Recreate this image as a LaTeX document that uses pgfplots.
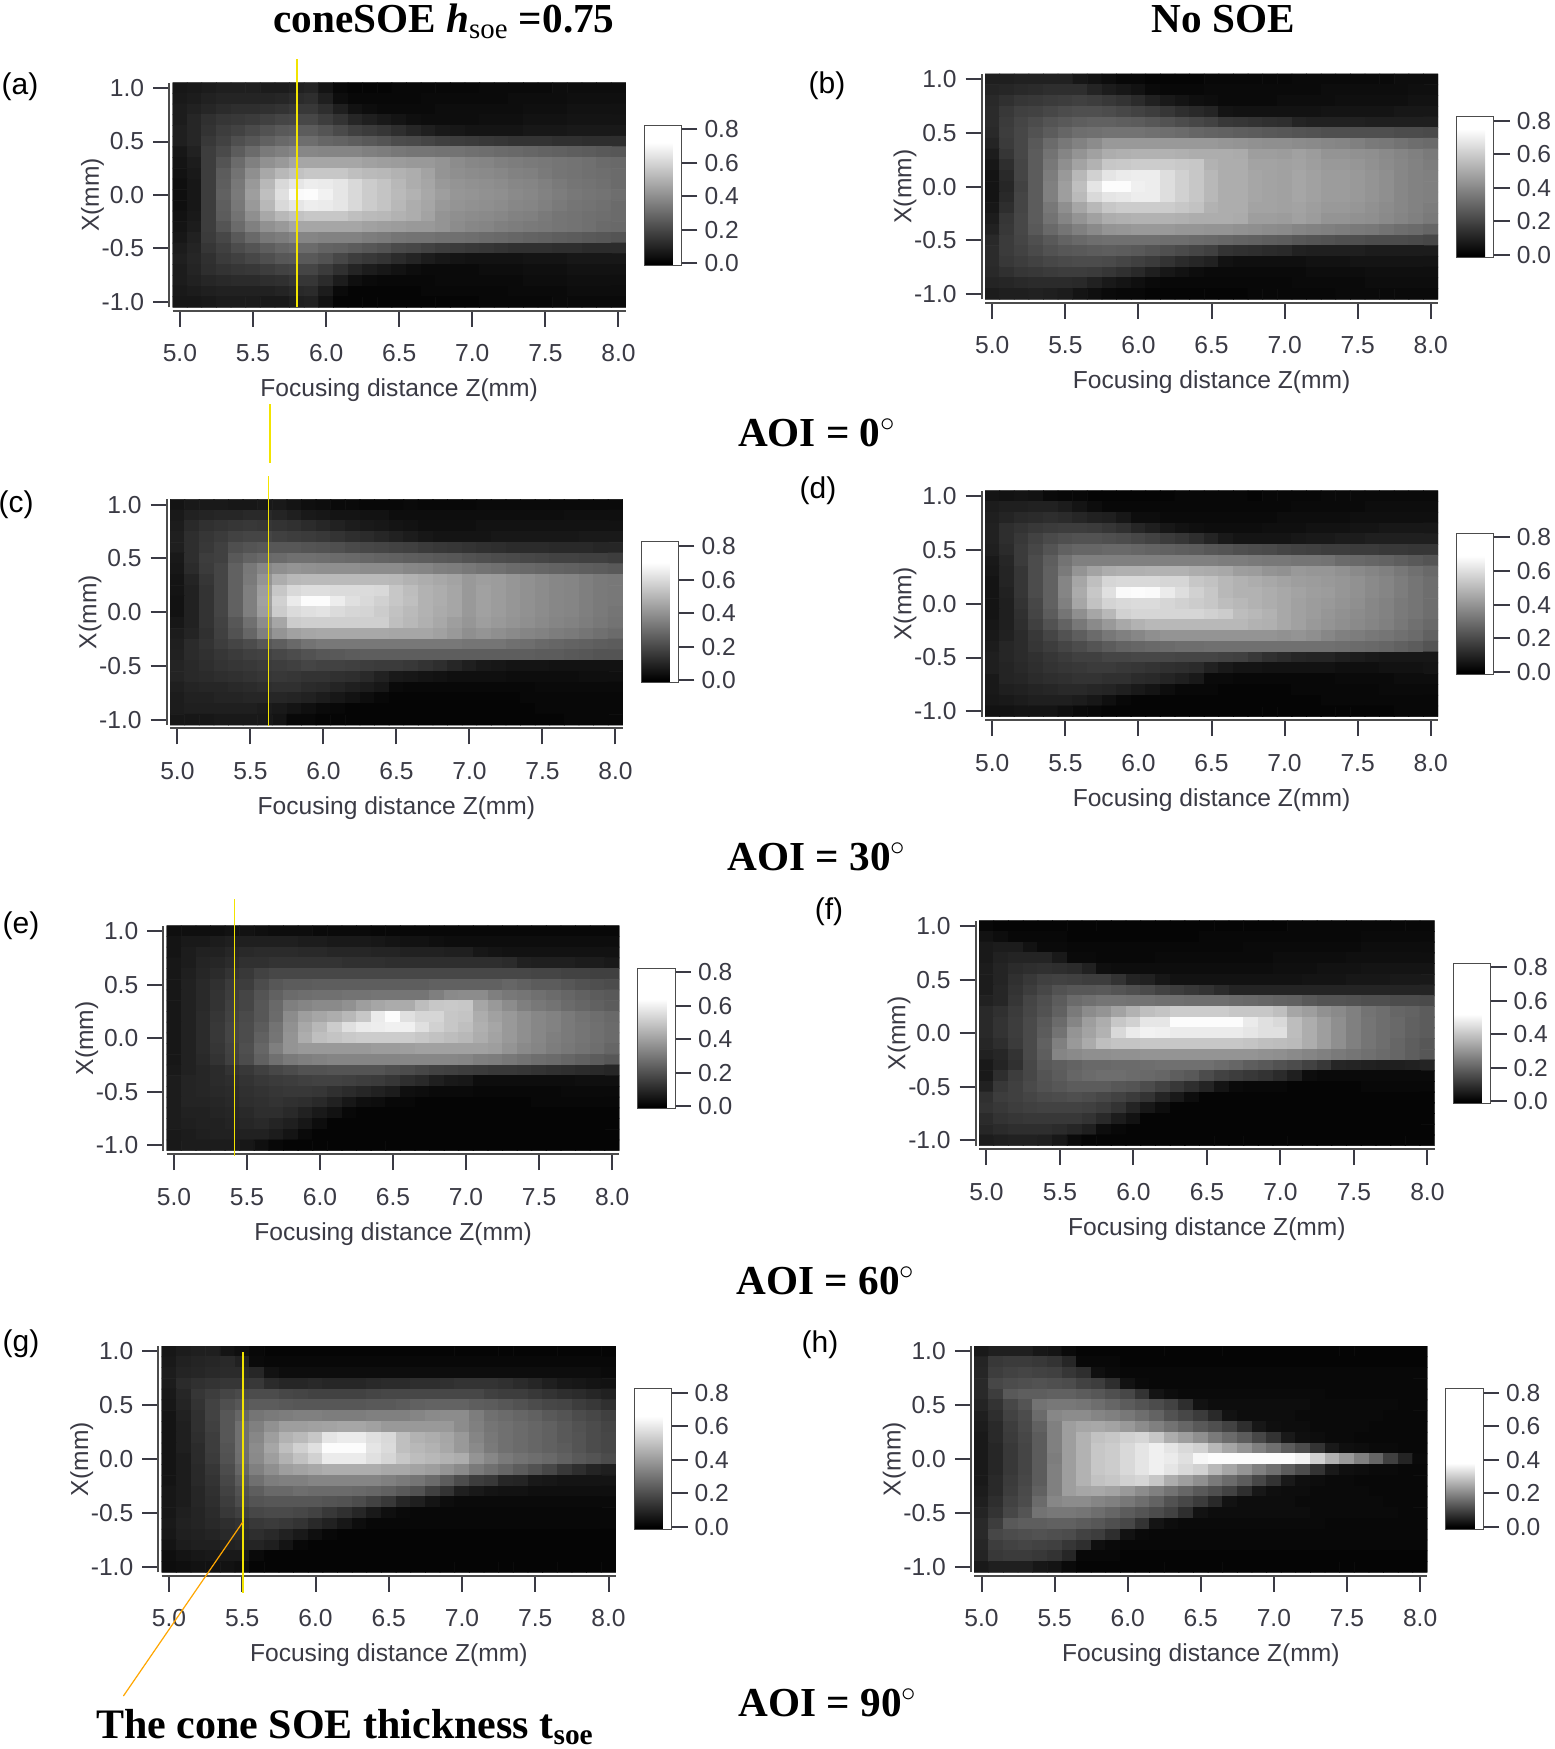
\documentclass[border=0pt]{standalone}
\usepackage{fontspec}
\usepackage{pgfplots}
\usepackage{pgfplotstable}
\pgfplotsset{compat=1.18}
\setmainfont{Liberation Serif}
\newfontfamily\sanslab{Liberation Sans}
\newcommand{\lab}{\sanslab\fontsize{12.3}{12.3}\selectfont}
\newcommand{\ttl}[1]{\fontsize{#1}{#1}\selectfont\bfseries}
\definecolor{inkc}{HTML}{3A3A44}
\definecolor{soe}{HTML}{F2E400}
\def\p{0.5pt}

% brightness in percent of the panel's white level; rows x=1.0 ... -1.0, columns z=5.0 ... 8.0
\pgfplotstableread[header=false]{
9 10 11 12 12 12 11 11 13 14 8 3 2 2 2 3 3 3 3 3 3 4 4 4 4 4 5 5 5 5 5
10 11 13 14 14 14 14 15 17 18 12 5 3 3 3 3 3 4 4 4 4 4 4 5 5 5 5 6 6 6 6
11 13 15 17 18 18 19 20 22 22 18 12 7 5 4 4 4 4 5 5 5 5 5 5 6 6 6 7 7 7 7
11 15 19 21 22 23 25 27 28 28 24 20 15 12 10 8 6 5 5 5 5 6 6 6 7 7 7 8 8 8 8
12 15 20 24 26 29 32 35 36 36 33 29 25 23 21 18 15 12 10 9 8 8 8 8 9 9 9 10 10 10 10
12 15 22 26 31 34 38 41 43 43 40 39 37 35 33 30 29 27 25 24 23 22 21 20 20 20 19 19 18 18 18
9 13 24 29 36 42 48 50 53 53 52 52 52 50 49 47 46 46 45 45 44 43 42 41 40 39 38 37 36 35 34
8 11 24 33 42 50 57 60 65 65 65 65 65 63 62 61 60 60 58 55 53 52 50 49 48 47 46 45 44 42 41
7 10 24 36 45 56 66 72 76 78 78 78 75 73 72 70 68 64 58 56 55 54 53 51 50 48 46 45 44 43 42
6 9 24 37 47 60 72 85 90 93 92 90 85 80 77 72 68 65 60 58 57 56 55 53 52 50 48 46 45 44 42
6 9 24 38 48 62 75 88 98 99 95 90 85 80 77 73 70 66 62 59 58 57 56 54 53 51 49 47 46 45 43
6 9 24 37 47 60 72 85 90 93 92 90 85 80 77 72 68 65 60 58 57 56 55 53 52 50 48 46 45 44 42
7 10 24 36 45 56 66 72 76 78 78 78 75 73 72 70 68 64 58 56 55 54 53 51 50 48 46 45 44 43 42
8 11 24 33 42 50 57 60 65 65 65 65 65 63 62 61 60 60 58 55 53 52 50 49 48 47 46 45 44 42 41
9 13 23 28 35 41 47 49 52 52 51 51 51 49 48 46 45 45 44 44 43 42 41 40 39 38 37 36 35 34 33
11 14 21 25 30 33 37 40 42 42 39 38 36 34 32 29 28 26 24 23 22 21 20 19 19 19 18 18 17 17 17
12 15 19 23 25 28 31 34 35 35 32 28 24 22 20 17 14 11 9 8 7 7 7 7 8 8 8 9 9 9 9
11 14 18 20 21 22 24 26 27 27 23 19 14 11 9 7 5 4 4 4 4 5 5 5 6 6 6 7 7 7 7
11 13 15 16 17 17 18 19 21 21 17 11 6 4 3 3 3 3 4 4 4 4 4 4 5 5 5 6 6 6 6
10 11 12 13 13 13 13 14 16 17 11 4 2 2 2 2 2 3 3 3 3 3 3 4 4 4 4 5 5 5 5
9 9 10 11 11 11 10 10 12 13 7 2 2 2 2 2 2 2 2 2 2 3 3 3 3 3 4 4 4 4 4
}\tabA
\pgfplotstableread[header=false]{
12 12 13 13 13 13 9 7 5 3 3 2 2 2 2 3 3 3 3 3 3 4 4 4 4 4 4 4 5 5 5
14 15 16 17 18 18 18 14 11 9 7 4 3 3 3 4 4 4 4 4 4 4 4 5 5 5 5 5 5 6 6
16 19 21 22 23 24 25 24 22 20 17 13 10 8 6 5 4 4 4 4 5 5 5 5 6 6 6 6 6 7 7
17 22 25 26 28 30 31 31 30 28 26 24 21 18 16 14 8 7 7 7 7 7 7 8 8 8 8 8 9 9 9
17 23 27 30 33 35 37 38 38 37 36 34 32 30 28 26 22 21 20 19 18 14 13 13 13 13 12 12 12 12 12
16 24 28 32 36 40 43 44 45 45 45 44 43 42 40 39 38 37 36 35 34 33 32 31 31 31 31 31 30 30 29
14 23 28 35 42 47 51 55 60 60 60 60 60 60 60 60 59 58 57 56 56 55 54 53 52 50 48 47 45 43 42
11 21 28 36 45 52 58 63 68 69 70 70 70 69 68 68 68 67 62 62 61 63 61 58 58 57 56 54 52 50 48
9 18 27 36 47 56 64 70 78 79 80 80 80 79 78 70 68 68 64 64 63 64 62 60 60 59 57 55 53 51 49
8 16 27 36 49 60 72 82 90 92 93 93 87 82 78 72 68 68 65 64 63 65 63 61 61 60 58 56 53 51 50
8 15 26 36 50 62 75 90 99 99 94 93 87 82 78 72 68 68 65 64 63 65 63 61 61 60 58 56 53 51 50
8 16 27 36 50 62 73 85 90 91 93 93 87 82 78 72 68 68 65 64 63 65 63 61 61 60 58 56 53 51 50
9 18 27 36 47 56 65 72 78 80 80 80 80 78 76 70 68 68 64 64 63 64 62 60 60 59 57 55 53 51 49
11 21 28 36 45 52 58 63 68 69 70 70 70 69 68 68 68 67 62 62 61 63 61 58 58 57 56 54 52 50 48
13 22 28 35 41 46 50 54 58 59 60 60 60 59 59 58 58 57 56 55 54 52 51 50 49 48 47 45 43 42 40
16 23 27 31 35 39 41 43 44 44 44 44 43 43 42 41 40 39 38 37 36 34 33 32 31 31 30 30 30 29 28
17 23 26 29 32 34 35 36 37 36 35 33 31 29 27 25 20 19 18 17 16 13 12 12 12 12 11 11 11 11 11
17 22 24 26 28 29 30 30 29 27 25 23 20 17 15 13 7 6 6 6 6 6 7 7 7 8 8 8 8 8 8
16 19 21 22 23 24 24 23 21 19 16 12 9 7 5 4 4 4 4 4 4 4 5 5 5 5 6 6 6 6 6
14 15 16 17 17 17 16 13 10 8 6 4 3 3 3 3 3 3 3 3 3 4 4 4 4 4 5 5 5 5 5
11 12 12 13 12 11 8 6 4 3 3 2 2 2 2 2 2 2 3 3 3 3 3 3 4 4 4 4 4 4 4
}\tabB
\pgfplotstableread[header=false]{
8 10 10 10 9 9 10 10 8 6 5 4 4 3 3 3 4 3 3 3 3 4 4 4 4 4 4 4 4 4 4
10 13 14 15 15 16 16 14 12 10 9 8 8 7 7 5 5 5 5 5 5 5 5 5 5 5 5 6 6 6 6
11 16 19 20 21 22 21 20 19 17 15 13 11 10 9 8 7 6 6 6 6 7 7 7 7 7 7 7 7 7 7
12 18 21 23 26 27 27 25 24 23 22 20 18 17 15 13 11 9 8 8 8 8 9 9 9 9 9 9 10 10 10
12 18 22 25 31 33 34 34 34 33 32 31 29 28 27 26 25 23 22 21 20 19 18 17 17 17 16 16 16 15 15
10 18 24 25 35 39 41 42 44 44 43 42 41 40 39 38 37 36 35 34 32 31 30 29 28 27 26 26 25 25 24
9 17 23 27 38 47 53 56 58 57 56 56 56 55 55 55 53 52 50 49 47 45 44 42 41 40 39 38 37 36 35
8 14 21 27 38 48 58 68 72 73 73 73 73 73 73 72 70 68 66 64 60 62 61 59 57 55 53 52 50 48 47
8 13 20 27 38 50 62 78 85 87 87 86 86 86 85 78 74 70 68 65 60 63 61 59 57 55 53 52 50 48 47
7 13 20 27 38 50 63 82 92 99 99 93 88 85 82 78 75 70 68 65 60 63 61 59 57 55 53 52 50 48 47
7 13 20 27 38 50 62 80 86 88 89 86 84 83 80 76 73 70 67 65 60 63 61 59 57 55 53 52 50 48 46
9 13 20 26 34 44 55 65 80 81 81 81 81 81 81 75 72 69 66 62 59 62 60 58 56 54 52 51 49 47 45
11 14 19 25 32 40 50 58 63 65 66 66 66 66 66 65 65 65 63 60 56 58 56 54 52 51 49 48 46 44 42
12 17 20 24 27 30 34 37 41 45 47 47 47 47 47 47 47 47 47 47 46 46 46 44 43 41 40 39 38 37 36
13 17 19 21 23 25 26 28 30 32 34 35 36 37 37 37 37 37 37 37 37 37 37 37 37 36 36 35 34 33 33
14 16 18 20 21 22 23 24 25 27 26 26 25 24 23 23 22 20 18 15 12 10 9 8 8 8 7 7 7 7 7
14 16 17 18 19 20 21 22 21 20 20 19 18 16 13 10 9 8 7 6 6 6 6 5 5 5 5 5 6 6 6
12 14 15 15 16 17 18 19 19 17 16 14 12 11 9 4 3 3 3 3 3 3 3 3 3 4 4 4 4 4 4
11 13 13 14 14 15 15 15 14 13 11 9 7 5 3 2 2 2 2 2 2 2 2 2 3 3 3 3 3 3 3
11 12 12 12 12 12 11 10 8 6 4 3 2 2 2 2 2 2 2 2 2 2 2 2 2 3 3 3 3 3 3
9 9 9 10 10 10 10 8 3 3 2 2 2 2 2 2 2 2 2 2 2 2 2 2 2 2 2 3 3 3 3
}\tabC
\pgfplotstableread[header=false]{
8 7 8 7 4 3 3 2 2 2 2 2 2 3 3 3 3 3 2 3 3 3 3 4 4 4 4 4 4 4 4
11 12 12 13 13 11 8 5 3 3 3 3 3 3 3 3 3 3 3 3 3 4 4 4 4 4 5 5 5 5 5
12 14 16 17 18 17 15 13 12 9 5 5 4 4 4 4 4 4 4 4 5 5 5 5 5 6 6 6 6 6 6
13 18 20 22 23 24 24 23 21 19 15 12 9 7 6 5 5 5 5 6 6 6 7 7 7 8 8 9 9 9 9
13 18 22 26 29 31 32 32 31 30 28 26 23 21 18 14 10 8 8 8 8 9 10 10 11 11 12 12 12 12 12
12 17 23 28 33 38 40 40 41 41 40 39 38 37 36 34 33 31 30 29 27 26 25 24 24 23 23 22 22 21 21
10 15 23 30 37 45 50 50 50 50 50 50 50 50 50 50 49 49 48 47 47 46 46 45 42 41 40 39 37 35 33
9 14 21 30 38 48 58 64 68 69 69 70 70 70 68 67 66 62 61 58 57 60 59 59 57 54 52 50 47 44 41
8 14 21 30 38 52 65 75 84 85 85 85 84 84 78 76 72 70 68 66 64 62 61 60 59 57 54 52 49 46 43
8 13 21 30 38 52 67 78 88 98 99 98 92 87 82 78 72 70 70 68 66 64 62 61 59 57 54 52 49 46 43
8 12 20 28 38 50 65 76 83 85 86 86 84 82 80 78 74 72 70 68 66 63 61 60 58 56 53 51 48 46 43
8 12 19 27 36 46 56 65 72 82 84 84 84 84 84 82 80 74 72 70 66 63 61 59 57 55 53 51 48 46 43
9 12 18 25 32 39 47 54 60 66 70 72 72 72 72 72 72 72 70 69 66 63 60 58 56 54 52 50 47 44 41
10 13 17 22 27 32 37 42 47 50 53 56 58 58 58 58 58 58 58 58 57 58 56 53 50 49 47 46 44 42 38
11 15 17 21 24 27 30 33 36 39 40 41 42 43 43 44 44 44 44 44 44 44 44 44 43 42 41 40 38 36 33
12 15 17 19 21 23 25 25 27 27 28 28 28 27 27 27 26 25 22 19 17 15 14 14 12 11 10 9 9 9 9
12 14 16 18 20 21 22 23 23 22 21 20 19 18 17 13 10 8 8 7 7 7 7 7 6 6 6 7 7 7 8
10 14 15 17 18 19 20 20 19 19 17 16 14 12 10 4 4 3 3 3 3 3 3 3 4 4 4 4 5 5 5
10 12 13 14 15 16 16 15 14 12 10 8 5 3 3 3 2 2 2 2 2 3 3 3 3 3 3 4 4 4 4
9 10 11 12 12 12 11 9 6 3 2 2 2 2 2 2 2 2 2 2 2 2 2 3 3 3 3 3 3 3 3
7 7 8 8 8 6 4 3 2 2 2 2 2 2 2 2 2 2 2 2 2 2 2 2 2 2 2 2 3 3 3
}\tabD
\pgfplotstableread[header=false]{
6 6 6 6 7 7 6 5 5 5 4 4 4 4 3 3 3 3 3 3 3 3 3 3 3 3 3 3 3 3 3
8 10 10 11 12 12 12 12 12 11 11 10 10 10 9 8 7 7 6 5 5 5 5 5 5 5 5 5 5 5 5
8 11 13 13 15 16 17 17 17 16 16 15 15 15 14 14 13 13 13 12 12 9 8 7 7 7 7 7 7 7 7
9 11 14 15 17 19 19 20 20 20 20 20 19 19 19 18 18 18 18 18 18 18 18 17 13 12 12 12 11 11 10
9 12 15 17 20 22 26 28 28 28 28 28 28 28 28 28 28 28 28 28 28 28 28 28 28 27 27 26 26 25 25
9 13 16 19 23 24 30 34 36 36 37 37 37 37 37 37 37 37 38 38 38 38 38 40 38 36 36 34 32 31 30
9 13 16 20 24 27 33 38 42 43 44 44 45 45 46 46 46 46 50 54 55 55 50 47 46 44 42 40 38 36 35
9 13 16 20 25 27 34 41 50 52 54 54 57 62 65 67 67 74 78 79 78 65 60 55 50 47 45 42 40 38 36
9 13 17 21 26 29 34 42 55 62 65 68 72 78 92 99 88 84 84 78 77 68 63 60 56 53 51 48 45 43 41
9 13 17 22 27 30 36 45 57 66 72 80 88 92 93 94 94 88 82 78 75 69 65 60 56 53 51 48 46 44 42
9 13 17 22 27 30 38 46 58 68 75 77 79 80 80 80 80 78 76 74 72 68 64 60 56 53 50 48 46 44 42
9 13 17 21 26 31 40 50 58 60 60 60 60 60 61 61 62 63 63 63 63 63 62 58 54 52 49 47 45 43 40
9 13 16 20 25 30 38 44 48 50 51 52 52 52 52 52 53 53 53 53 52 50 49 47 45 43 42 40 38 36 34
10 13 15 17 20 22 25 28 30 32 32 33 33 33 33 31 30 28 26 25 24 23 22 22 21 20 19 18 17 16 15
11 14 15 17 18 20 22 23 24 25 26 26 25 24 23 21 18 16 12 10 9 5 5 5 5 5 5 5 6 6 6
11 14 15 16 17 19 20 21 22 22 21 19 17 15 13 11 6 5 4 4 4 3 3 3 3 3 3 4 4 4 4
11 14 14 15 16 18 19 20 19 18 16 13 9 6 5 3 3 2 2 2 2 2 2 2 2 3 3 3 3 3 3
11 13 13 14 15 16 18 18 16 13 10 7 3 2 2 2 2 2 2 2 2 2 2 2 2 2 2 2 2 2 2
11 12 13 13 14 15 16 14 12 9 5 2 2 2 2 2 2 2 2 2 2 2 2 2 2 2 2 2 2 2 2
10 11 12 13 13 13 13 11 8 4 2 2 2 2 2 2 2 2 2 2 2 2 2 2 2 2 2 2 2 2 2
10 11 11 11 11 9 6 3 2 2 2 2 2 2 2 2 2 2 2 2 2 2 2 2 2 2 2 2 2 2 2
}\tabE
\pgfplotstableread[header=false]{
3 2 2 2 2 2 2 2 2 2 2 2 2 2 2 2 2 2 2 2 2 3 3 3 3 3 3 3 3 3 3
7 5 3 3 3 3 2 2 2 2 2 2 2 2 2 3 3 3 3 3 3 3 3 3 3 3 4 4 4 4 4
10 11 11 7 4 4 3 3 3 3 3 3 3 3 3 3 3 3 4 4 4 4 4 4 4 4 5 5 5 5 5
10 13 14 14 14 10 4 4 3 3 3 3 4 4 4 4 4 4 4 4 5 5 5 5 5 6 6 6 6 6 6
11 14 17 18 19 18 17 13 6 5 5 5 5 5 5 5 5 5 5 5 6 6 6 7 7 7 8 8 8 8 8
11 14 19 22 25 26 25 24 24 20 14 13 9 7 7 7 7 7 7 7 7 7 8 8 8 9 9 9 10 10 10
11 15 20 24 28 32 34 34 35 33 31 29 26 24 22 20 17 14 14 14 14 14 14 14 14 14 14 14 14 14 14
13 15 21 27 31 36 42 44 46 46 45 45 44 44 43 43 43 42 41 40 39 38 35 33 33 32 31 31 30 30 29
16 19 23 28 32 38 48 55 58 64 70 75 77 80 80 80 80 78 78 78 75 65 62 57 54 50 45 43 40 39 36
16 20 24 29 35 42 52 62 68 78 82 90 90 99 99 99 99 99 92 88 85 74 68 62 56 50 46 43 41 38 36
16 20 24 29 36 45 58 64 70 85 92 95 94 92 92 92 92 92 90 88 88 74 68 62 56 50 46 43 41 38 36
15 18 23 29 38 50 60 67 75 77 77 78 78 78 78 78 78 78 77 75 74 73 68 62 56 50 46 43 40 37 34
13 15 20 29 37 52 54 56 56 57 57 58 58 58 58 58 58 58 58 57 56 54 52 50 48 46 44 42 40 37 34
10 14 19 28 35 37 39 41 41 42 42 43 44 44 44 44 42 40 37 35 32 30 26 22 15 14 13 12 12 13 14
10 18 24 28 33 36 40 42 43 43 42 41 40 37 35 30 26 24 22 20 17 12 5 4 4 4 4 4 4 4 4
13 22 25 29 32 34 36 36 36 34 33 30 26 22 18 14 8 4 3 3 3 2 2 2 2 2 3 3 3 3 3
19 24 25 27 29 30 31 30 28 26 23 20 14 10 5 2 2 2 2 2 2 2 2 2 2 2 2 2 2 2 2
20 22 24 25 26 26 26 25 23 20 14 9 5 2 2 2 2 2 2 2 2 2 2 2 2 2 2 2 2 2 2
17 20 21 22 22 22 22 20 16 11 7 2 2 2 2 2 2 2 2 2 2 2 2 2 2 2 2 2 2 2 2
15 17 18 18 18 17 15 12 5 3 2 2 2 2 2 2 2 2 2 2 2 2 2 2 2 2 2 2 2 2 2
11 12 13 13 12 9 4 2 2 2 2 2 2 2 2 2 2 2 2 2 2 2 2 2 2 2 2 2 2 2 2
}\tabF
\pgfplotstableread[header=false]{
9 11 12 12 8 6 3 2 2 2 2 2 2 2 2 2 2 2 2 2 2 2 2 2 2 2 2 2 2 2 2
10 13 14 15 16 13 4 3 3 3 3 3 3 3 3 3 3 3 3 3 3 3 3 3 3 3 3 3 3 3 3
11 14 15 16 17 17 15 7 5 5 5 5 5 5 5 5 5 5 5 5 5 5 5 5 5 5 5 5 5 5 4
11 17 19 20 21 21 22 17 15 15 16 15 15 15 16 17 17 18 18 19 20 20 20 19 17 15 12 10 9 8 7
10 15 21 24 27 29 30 30 28 27 26 26 26 26 27 28 28 28 28 28 28 28 25 24 24 22 20 18 17 15 13
9 14 20 26 31 34 36 36 35 34 34 34 34 34 35 35 36 38 39 39 39 37 36 34 32 30 28 27 24 22 19
8 13 19 26 34 40 46 48 49 50 50 49 49 49 50 50 50 52 54 55 55 49 44 42 40 38 35 33 30 28 25
8 12 19 25 34 44 50 57 62 62 63 64 65 65 63 60 60 60 60 60 55 50 46 44 42 40 38 35 32 30 27
8 12 18 24 34 44 53 62 70 73 78 90 92 92 88 85 75 70 68 65 60 52 47 44 42 40 38 35 33 30 28
8 12 17 24 33 44 55 65 75 82 88 99 99 99 90 86 75 72 70 66 60 54 48 44 42 40 38 36 33 30 28
8 11 17 23 32 43 54 62 70 76 82 92 92 92 88 84 78 74 72 70 68 58 53 48 45 43 41 38 35 33 30
8 11 16 21 30 40 50 56 62 64 66 68 68 68 68 66 66 64 62 58 54 48 44 40 36 32 28 22 18 14 12
8 11 16 20 28 36 44 49 50 50 52 52 52 52 52 50 48 46 42 36 30 24 22 15 14 10 9 8 8 8 8
9 11 15 19 26 32 37 41 41 43 42 42 42 41 40 38 35 32 25 20 12 10 8 7 7 6 6 6 6 6 6
9 11 15 18 24 30 33 34 34 34 34 33 32 30 26 22 15 12 8 5 4 4 4 4 4 4 4 4 4 4 4
9 12 14 17 22 25 28 29 29 28 26 22 19 15 10 6 4 3 3 3 3 3 3 3 3 3 3 3 3 3 3
10 13 14 16 18 20 22 23 22 20 16 13 9 5 3 3 3 3 3 3 3 3 3 3 3 3 3 3 3 3 3
9 12 13 14 16 17 18 16 13 10 6 3 2 2 2 2 2 2 2 2 2 2 2 2 2 2 2 2 2 2 2
8 11 12 12 13 14 14 12 8 3 2 2 2 2 2 2 2 2 2 2 2 2 2 2 2 2 2 2 2 2 2
6 8 9 10 10 10 4 2 2 2 2 2 2 2 2 2 2 2 2 2 2 2 2 2 2 2 2 2 2 2 2
5 6 7 7 7 6 2 2 2 2 2 2 2 2 2 2 2 2 2 2 2 2 2 2 2 2 2 2 2 2 2
}\tabG
\pgfplotstableread[header=false]{
10 12 12 12 9 8 4 2 2 2 2 2 2 2 2 2 2 2 2 2 2 2 2 2 2 2 2 2 2 2 2
14 22 23 23 22 20 15 3 3 3 2 2 2 2 2 2 2 2 2 2 2 2 2 2 2 2 2 2 2 2 2
15 24 26 27 26 25 21 18 6 4 3 3 3 3 3 3 3 3 3 3 3 3 3 3 3 3 3 3 3 3 3
16 28 30 31 32 31 30 26 24 18 7 4 3 3 3 3 3 3 3 3 3 3 3 3 3 3 3 3 3 3 3
16 24 35 37 37 38 38 36 34 31 28 20 8 5 4 4 4 4 4 4 4 4 4 4 3 3 3 3 3 3 3
14 20 28 33 45 47 47 46 43 40 36 33 30 26 18 7 5 5 5 5 5 5 5 4 4 4 4 4 4 3 3
12 18 26 30 42 53 55 55 52 50 47 43 39 32 28 23 16 7 5 5 5 5 4 4 4 4 4 4 3 3 3
11 16 24 29 38 50 62 65 66 64 60 55 50 45 40 35 31 26 18 9 6 5 5 4 4 4 4 3 3 3 3
10 16 23 28 36 50 62 70 76 78 82 84 78 68 62 56 48 42 36 28 20 10 6 5 4 4 3 3 3 3 3
10 15 22 27 36 50 62 70 78 80 85 90 94 90 85 82 72 65 58 50 44 36 30 20 10 6 5 4 4 3 3
10 15 22 27 36 49 62 70 78 80 85 90 94 92 88 97 99 99 99 99 99 99 95 82 70 60 50 40 25 14 4
10 15 22 27 36 50 62 70 78 80 85 90 94 90 85 82 72 65 58 50 44 36 30 20 10 6 5 4 4 3 3
10 16 23 28 36 50 62 70 76 78 82 84 78 68 62 56 48 42 36 28 20 10 6 5 4 4 3 3 3 3 3
11 16 24 29 38 50 62 65 66 64 60 55 50 45 40 35 31 26 18 9 6 5 5 4 4 4 4 3 3 3 3
12 18 26 30 42 53 55 55 52 50 47 43 39 32 28 23 16 7 5 5 5 5 4 4 4 4 4 4 3 3 3
14 20 28 33 45 47 47 46 43 40 36 33 30 26 18 7 5 5 5 5 5 5 5 4 4 4 4 4 4 3 3
16 24 35 37 37 38 38 36 34 31 28 20 8 5 4 4 4 4 4 4 4 4 4 4 3 3 3 3 3 3 3
16 28 30 31 32 31 30 26 24 18 7 4 3 3 3 3 3 3 3 3 3 3 3 3 3 3 3 3 3 3 3
15 24 26 27 26 25 21 18 6 4 3 3 3 3 3 3 3 3 3 3 3 3 3 3 3 3 3 3 3 3 3
14 22 23 23 22 20 15 3 3 3 2 2 2 2 2 2 2 2 2 2 2 2 2 2 2 2 2 2 2 2 2
10 12 12 12 9 8 4 2 2 2 2 2 2 2 2 2 2 2 2 2 2 2 2 2 2 2 2 2 2 2 2
}\tabH

% one panel: left, top, width, height (px), table, white level of its colour bar
\newcommand{\panel}[6]{%
  \gdef\cc{}%
  \pgfplotsforeachungrouped \r in {0,...,20}{%
    \pgfplotsforeachungrouped \k in {0,...,30}{%
      \pgfplotstablegetelem{\r}{[index]\k}\of#5%
      \pgfmathsetmacro\mm{\pgfplotsretval*#6/100}%
      \pgfmathsetmacro\xx{5+\k/10}%
      \pgfmathsetmacro\yy{1-\r/10}%
      \xdef\cc{\cc (\xx,\yy) [\mm]}%
    }%
  }%
  \pgfmathtruncatemacro\pos{(#6+0.014)*1000}%
  \begin{axis}[
    at={(#1*\p,-#2*\p-#4*\p)}, anchor=south west,
    scale only axis, width=#3*\p, height=#4*\p,
    xmin=4.95, xmax=8.05, ymin=-1.05, ymax=1.05,
    xtick={5,5.5,...,8}, ytick={-1,-0.5,...,1},
    axis x line=bottom, axis y line=left,
    axis line shift=1.7pt,
    axis line style={-, draw=gray!60!black, line width=1pt},
    tick style={draw=inkc, line width=1pt},
    tick align=outside, major tick length=8pt,
    tick label style={font=\lab, text=inkc},
    /pgf/number format/assume math mode=true,
    /pgf/number format/fixed, /pgf/number format/fixed zerofill, /pgf/number format/precision=1,
    xticklabel style={yshift=-5.5pt},
    yticklabel style={xshift=-1pt},
    xlabel={Focusing distance Z(mm)},
    xlabel style={font=\lab, text=inkc, at={(axis description cs:0.5,0)}, anchor=center, yshift=-41.5pt},
    ylabel={X(mm)},
    ylabel style={font=\lab, text=inkc, at={(axis description cs:0,0.5)}, anchor=center, yshift=40pt},
    point meta min=-0.014, point meta max=0.824,
    colormap={cb}{gray(0)=(0); gray(14)=(0); gray(\pos)=(1); gray(838)=(1)},
    colorbar,
    colorbar style={
      at={(1.0408,0.811)}, anchor=north west,
      width=18.6pt, height=70.3pt,
      ytick={0,0.2,0.4,0.6,0.8},
      ytick pos=right,
      ylabel={},
      tick align=outside, major tick length=8pt,
      axis line style={draw=gray!60!black, line width=0.5pt},
      yticklabel style={font=\lab, text=inkc},
      /pgf/number format/assume math mode=true,
      /pgf/number format/fixed, /pgf/number format/fixed zerofill, /pgf/number format/precision=1,
    },
  ]
    \edef\doit{\noexpand\addplot[matrix plot*, mesh/cols=31, mesh/rows=21, point meta=explicit] coordinates {\cc};}
    \doit
  \end{axis}%
}

\begin{document}
\begin{tikzpicture}
\path[use as bounding box] (0,0) rectangle (1554*\p,-1749*\p);

\panel{172.6}{82.7}{453.2}{224.6}{\tabA}{0.72}
\panel{985}{74}{453.1}{225.3}{\tabB}{0.75}
\panel{170.1}{499.3}{452.7}{225.7}{\tabC}{0.70}
\panel{985}{490.7}{453}{226}{\tabD}{0.69}
\panel{166.7}{925.7}{452.7}{225}{\tabE}{0.64}
\panel{979.1}{920.7}{455.6}{225}{\tabF}{0.52}
\panel{161.7}{1346}{454.2}{226.3}{\tabG}{0.66}
\panel{974.2}{1346}{453.2}{226.3}{\tabH}{0.38}

% markers drawn on the figure by hand
\draw[soe, line width=0.8pt] (297*\p,-59*\p) -- (297*\p,-307*\p);
\draw[soe, line width=0.8pt] (270*\p,-404*\p) -- (270*\p,-463*\p);
\draw[soe, line width=0.8pt] (268.6*\p,-476*\p) -- (268.6*\p,-726*\p);
\draw[soe, line width=0.8pt] (234.3*\p,-899*\p) -- (234.3*\p,-1156*\p);
\draw[soe, line width=0.8pt] (242.8*\p,-1352*\p) -- (242.8*\p,-1593*\p);
\draw[orange!70!yellow, line width=0.6pt] (242.8*\p,-1522*\p) -- (123.4*\p,-1696*\p);

\foreach \t/\x/\y in {a/20/87,b/827/86,c/16/505,d/818/491,e/21/926,f/829/912,g/21/1344,h/820/1345}
  \node[font=\sanslab\fontsize{15}{15}\selectfont] at (\x*\p,-\y*\p) {(\t)};

\node[font=\ttl{20.6}] at (444*\p,-21*\p) {coneSOE \textit{h}\textsubscript{\normalfont soe} =0.75};
\node[font=\ttl{20.6}] at (1223*\p,-19*\p) {No SOE};
\node[font=\ttl{20.6}] at (817*\p,-433*\p) {AOI = 0$^{\circ}$};
\node[font=\ttl{20.6}] at (817*\p,-857*\p) {AOI = 30$^{\circ}$};
\node[font=\ttl{20.6}] at (826*\p,-1281*\p) {AOI = 60$^{\circ}$};
\node[font=\ttl{20.6}] at (828*\p,-1703*\p) {AOI = 90$^{\circ}$};
\node[font=\ttl{21}] at (345*\p,-1727*\p) {The cone SOE thickness t\textsubscript{soe}};
\end{tikzpicture}
\end{document}
